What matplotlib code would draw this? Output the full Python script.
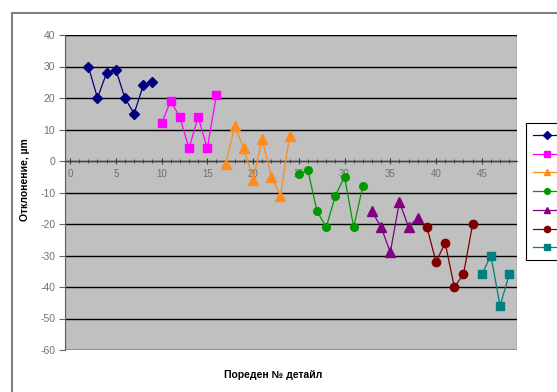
import matplotlib
matplotlib.use("Agg")
import matplotlib.pyplot as plt
from matplotlib.patches import Rectangle
from matplotlib.ticker import MultipleLocator

plt.rcParams["font.family"] = ["Liberation Sans", "DejaVu Sans"]
plt.rcParams["axes.unicode_minus"] = False

# deviation per part, grouped by batch
x1 = [2, 3, 4, 5, 6, 7, 8, 9]
y1 = [30, 20, 28, 29, 20, 15, 24, 25]
x2 = [10, 11, 12, 13, 14, 15, 16]
y2 = [12, 19, 14, 4, 14, 4, 21]
x3 = [17, 18, 19, 20, 21, 22, 23, 24]
y3 = [-1, 11, 4, -6, 7, -5, -11, 8]
x4 = [25, 26, 27, 28, 29, 30, 31, 32]
y4 = [-4, -3, -16, -21, -11, -5, -21, -8]
x5 = [33, 34, 35, 36, 37, 38]
y5 = [-16, -21, -29, -13, -21, -18]
x6 = [39, 40, 41, 42, 43, 44]
y6 = [-21, -32, -26, -40, -36, -20]
x7 = [45, 46, 47, 48]
y7 = [-36, -30, -46, -36]

series = [
    (x1, y1, "#000080", "D", 5.5),
    (x2, y2, "#FF00FF", "s", 6),
    (x3, y3, "#FF8C1A", "^", 6.5),
    (x4, y4, "#009900", "o", 5.5),
    (x5, y5, "#800080", "^", 6.5),
    (x6, y6, "#800000", "o", 6),
    (x7, y7, "#008080", "s", 6),
]

W, H = 557, 392
fig = plt.figure(figsize=(W / 100, H / 100), dpi=100)
fig.patch.set_facecolor("white")

# outer chart border
fig.add_artist(Rectangle((12 / W, -0.1), 1.2, 1 - 13 / H + 0.1,
                         transform=fig.transFigure, fill=False,
                         edgecolor="#808080", lw=1.5))

ax = fig.add_axes([65 / W, 1 - 350 / H, (517 - 65) / W, (350 - 35) / H])
ax.set_facecolor("#C0C0C0")

handles = []
for xs, ys, c, m, ms in series:
    h, = ax.plot(xs, ys, color=c, lw=0.9, marker=m, ms=ms, mfc=c, mec=c,
                 zorder=3)
    handles.append(h)

ax.set_xlim(-0.55, 48.85)
ax.set_ylim(-60, 40)
ax.yaxis.set_major_locator(MultipleLocator(10))
ax.xaxis.set_major_locator(MultipleLocator(5))
ax.xaxis.set_minor_locator(MultipleLocator(1))
ax.grid(axis="y", color="black", lw=1.0, zorder=1)
ax.set_axisbelow(True)

for s in ("top", "right"):
    ax.spines[s].set_visible(False)
ax.spines["bottom"].set_position(("data", 0))
ax.spines["bottom"].set_color("#404040")
ax.spines["bottom"].set_linewidth(0.8)
ax.spines["left"].set_color("#606060")
ax.add_patch(Rectangle((0, 0), 1, 1, transform=ax.transAxes, fill=False,
                       edgecolor="#909090", lw=1.0, zorder=0.5))

ax.tick_params(axis="x", which="both", direction="inout", colors="#404040",
               labelcolor="#707070", labelsize=7, pad=4)
ax.tick_params(axis="x", which="major", length=4)
ax.tick_params(axis="x", which="minor", length=3)
ax.tick_params(axis="y", direction="out", length=4, colors="#606060",
               labelcolor="#707070", labelsize=7.5, pad=3)
ax.set_xticks(range(0, 46, 5))

fig.text(273 / W, 1 - 375 / H, "Пореден № детайл", ha="center", va="center",
         fontsize=7.5, fontweight="bold")
fig.text(25 / W, 1 - 180 / H, "Отклонение, µm", ha="center", va="center",
         rotation=90, fontsize=7.5, fontweight="bold")

# legend keys only; the box runs past the right edge of the figure
leg = ax.legend(handles, [""] * len(handles), loc="upper left",
                bbox_to_anchor=(526 / W, 1 - 123 / H),
                bbox_transform=fig.transFigure, fontsize=7, frameon=True,
                fancybox=False, edgecolor="black", framealpha=1,
                handlelength=2.8, labelspacing=0.9, borderpad=0.75,
                borderaxespad=0, handletextpad=3.0, markerscale=0.75)
leg.get_frame().set_linewidth(0.8)

fig.savefig("out.png", dpi=100)
